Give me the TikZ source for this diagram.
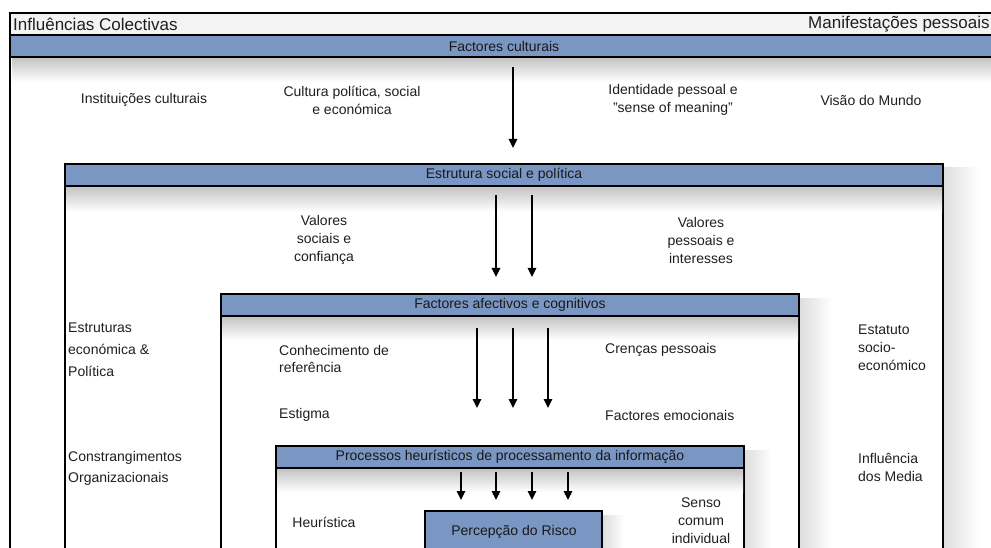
\documentclass[tikz,border=0pt]{standalone}
\usepackage{fontspec}
\setmainfont{Liberation Sans}
\usetikzlibrary{arrows.meta}
\definecolor{hdr}{RGB}{122,150,194}
\definecolor{titlebg}{RGB}{243,243,243}
\tikzset{
  boxline/.style={draw=black, line width=1.3pt},
  hdrbar/.style={fill=hdr, draw=black, line width=1.3pt, inner sep=0pt,
    font=\fontsize{14}{18}\selectfont, text=black!90},
  lbl/.style={font=\fontsize{14}{18}\selectfont, inner sep=0pt, text=black!88},
  flow/.style={line width=1.3pt, -{Triangle[width=8.5pt,length=9pt]}},
  hshadow/.style={top color=black!24, bottom color=white, draw=none},
  vshadow/.style={left color=black!13, right color=white, draw=none},
}
\begin{document}
\begin{tikzpicture}[x=1pt,y=-1pt]
\useasboundingbox (0,0) rectangle (991,548);
\fill[white] (0,0) rectangle (991,548);
\clip (0,0) rectangle (991,548);

% ---------- outer box ----------
\draw[boxline, fill=white] (10,13) rectangle (998,620);
\shade[hshadow] (12,57) rectangle (996,82);
\node[boxline, fill=titlebg, minimum width=988pt, minimum height=22pt, inner sep=0pt] (titlerow) at (504,24) {};
\node[lbl, font=\fontsize{17}{20}\selectfont, anchor=west] (ttl) at (13,24) {Influências Colectivas};
\node[lbl, font=\fontsize{17}{20}\selectfont, anchor=west] (ttr) at (808,24) {Manifestações pessoais};
\node[hdrbar, minimum width=988pt, minimum height=22pt] (h1) at (504,46) {Factores culturais};

\node[lbl] (t1) at (144,100) {Instituições culturais};
\node[lbl, align=center] (t2) at (352,100) {Cultura política, social\\e económica};
\node[lbl, align=center] (t3) at (673,100) {Identidade pessoal e\\\symbol{34}sense of meaning\symbol{34}};
\node[lbl] (t4) at (871,100) {Visão do Mundo};

\coordinate (a1s) at (513,67); \coordinate (a1e) at (513,148);
\draw[flow] (a1s) -- (a1e);

% ---------- box 2 ----------
\shade[vshadow] (944,168) rectangle (978,620);
\draw[boxline, fill=white] (65,164) rectangle (943,620);
\shade[hshadow] (66,186) rectangle (942,212);
\node[hdrbar, minimum width=878pt, minimum height=22pt] (h2) at (504,175) {Estrutura social e política};

\node[lbl, align=center] (t5) at (324,240) {Valores\\sociais e\\confiança};
\node[lbl, align=center] (t6) at (701,240) {Valores\\pessoais e\\interesses};
\node[lbl, align=left, anchor=west, font=\fontsize{14}{22}\selectfont] (t7) at (68,350) {Estruturas\\económica \&\\Política};
\node[lbl, align=left, anchor=west, font=\fontsize{14}{21}\selectfont] (t8) at (68,468) {Constrangimentos\\Organizacionais};
\node[lbl, align=left, anchor=west] (t9) at (858,348) {Estatuto\\socio-\\económico};
\node[lbl, align=left, anchor=west] (t10) at (858,467) {Influência\\dos Media};

\coordinate (a2s) at (496,195); \coordinate (a2e) at (496,277);
\coordinate (a3s) at (532,195); \coordinate (a3e) at (532,277);
\draw[flow] (a2s) -- (a2e);
\draw[flow] (a3s) -- (a3e);

% ---------- box 3 ----------
\shade[vshadow] (800,298) rectangle (832,620);
\draw[boxline, fill=white] (221,294) rectangle (799,620);
\shade[hshadow] (222,316) rectangle (798,340);
\node[hdrbar, minimum width=578pt, minimum height=22pt] (h3) at (510,305) {Factores afectivos e cognitivos};

\node[lbl, align=left, anchor=west, font=\fontsize{14}{17}\selectfont] (t11) at (279,359) {Conhecimento de\\referência};
\node[lbl, anchor=west] (t12) at (279,415) {Estigma};
\node[lbl, anchor=west] (t13) at (605,350) {Crenças pessoais};
\node[lbl, anchor=west] (t14) at (605,415) {Factores emocionais};

\coordinate (a4s) at (477,328); \coordinate (a4e) at (477,408);
\coordinate (a5s) at (513,328); \coordinate (a5e) at (513,408);
\coordinate (a6s) at (548,328); \coordinate (a6e) at (548,408);
\draw[flow] (a4s) -- (a4e);
\draw[flow] (a5s) -- (a5e);
\draw[flow] (a6s) -- (a6e);

% ---------- box 4 ----------
\shade[vshadow] (745,450) rectangle (772,620);
\draw[boxline, fill=white] (276,446) rectangle (744,620);
\shade[hshadow] (277,468) rectangle (743,492);
\node[hdrbar, minimum width=468pt, minimum height=22pt] (h4) at (510,457) {Processos heurísticos de processamento da informação};

\node[lbl] (t15) at (324,522) {Heurística};
\node[lbl, align=center] (t16) at (701,521) {Senso\\comum\\individual};

\coordinate (a7s) at (461,472); \coordinate (a7e) at (461,500);
\coordinate (a8s) at (496,472); \coordinate (a8e) at (496,500);
\coordinate (a9s) at (532,472); \coordinate (a9e) at (532,500);
\coordinate (a10s) at (568,472); \coordinate (a10e) at (568,500);
\draw[flow] (a7s) -- (a7e);
\draw[flow] (a8s) -- (a8e);
\draw[flow] (a9s) -- (a9e);
\draw[flow] (a10s) -- (a10e);

% ---------- risk box ----------
\shade[vshadow] (603,515) rectangle (624,620);
\draw[boxline, fill=hdr] (425,511) rectangle (602,620);
\node[lbl, text=black!90] (risk) at (514,532) {Percepção do Risco};
\end{tikzpicture}
\end{document}
